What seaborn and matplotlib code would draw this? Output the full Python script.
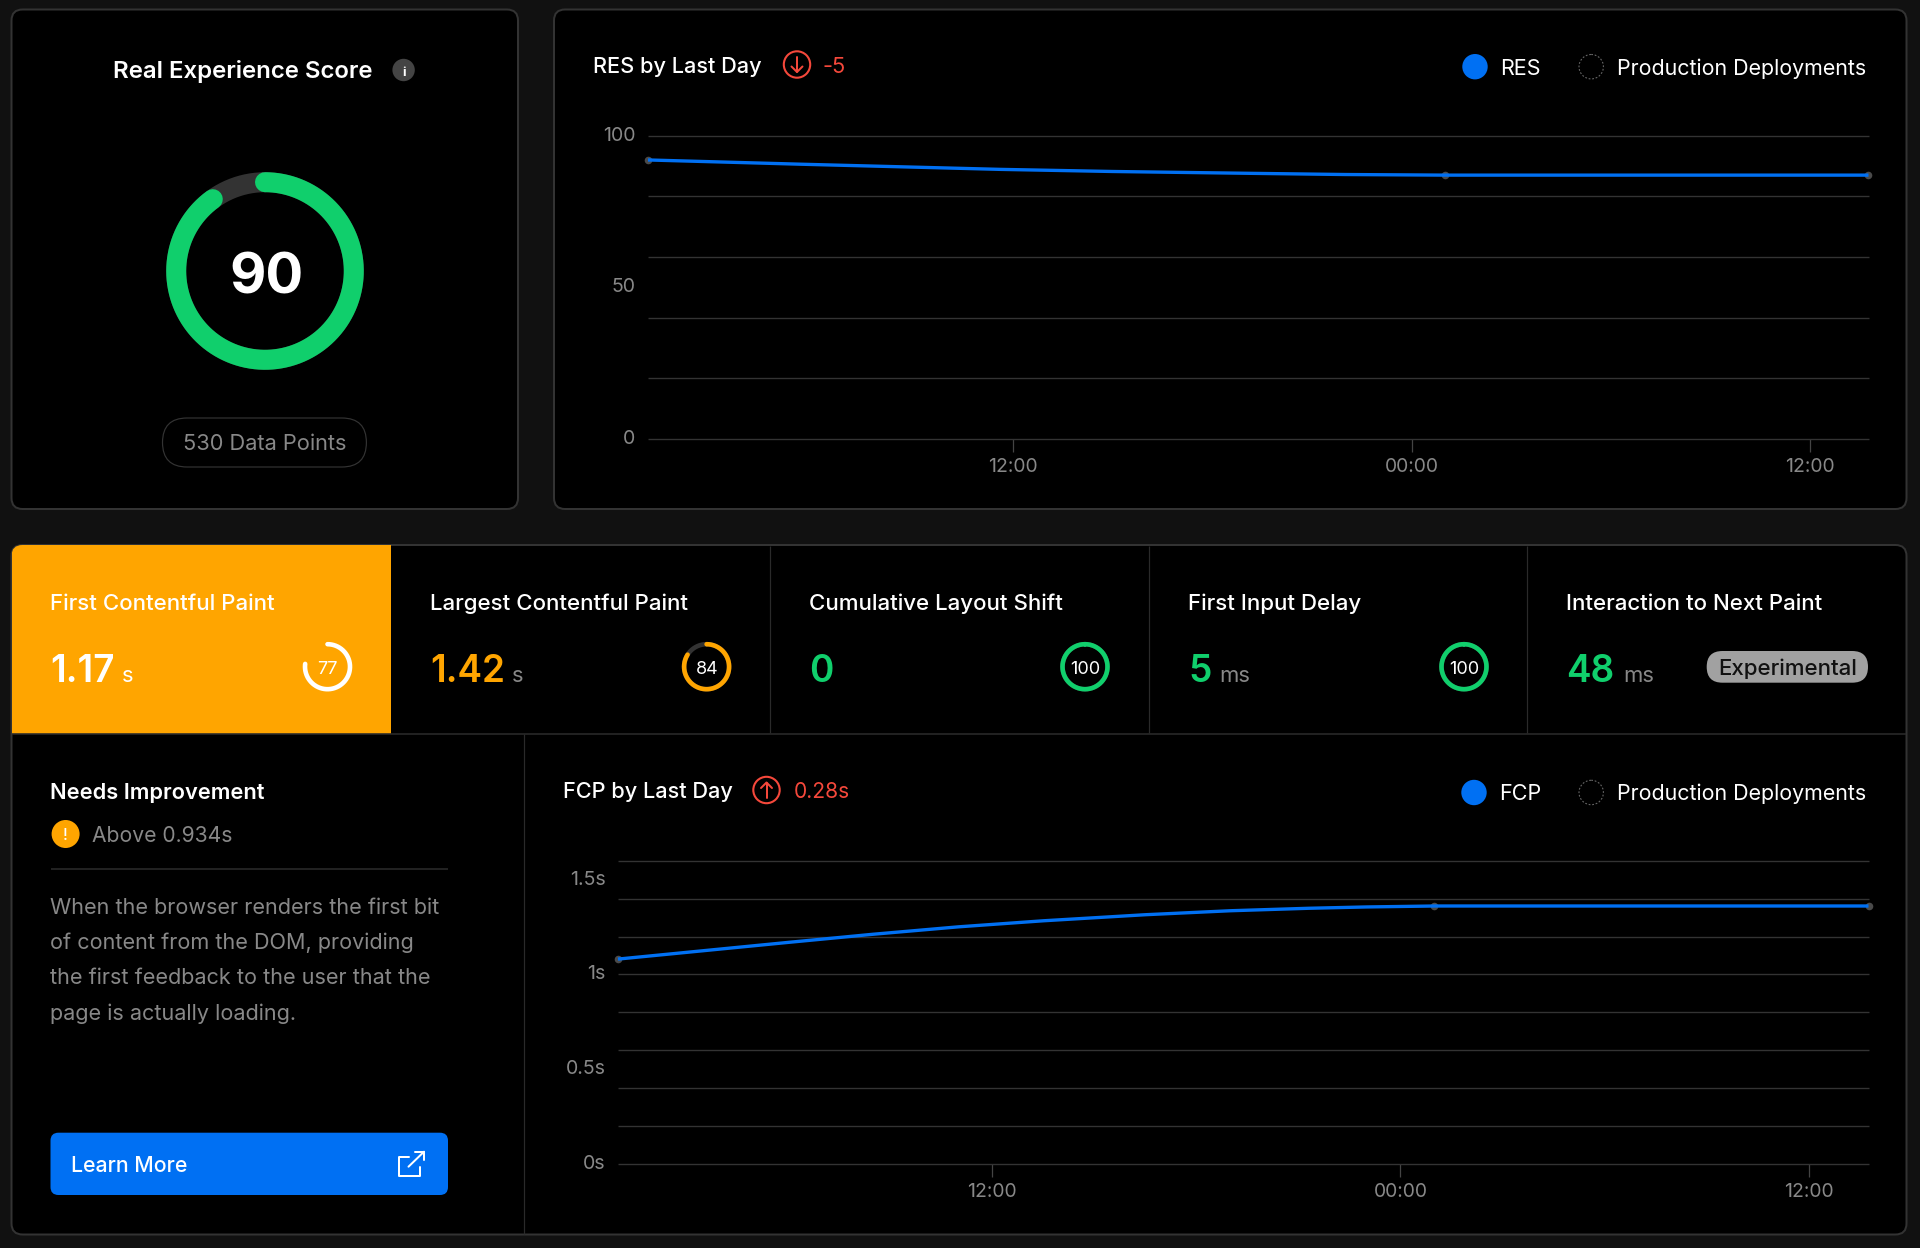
import numpy as np
import matplotlib
matplotlib.use("Agg")
import matplotlib.pyplot as plt
from matplotlib.patches import FancyBboxPatch, Circle, Rectangle
from matplotlib.transforms import ScaledTranslation
import seaborn as sns

# ---------- data ----------
RES_HOURS = [1, 5.6, 11.6, 15, 19.1, 22, 25, 37.76]
RES_VALUES = [92, 90.6, 88.9, 88.2, 87.6, 87.2, 87, 87]
RES_POINT_HOURS = [1, 25, 37.76]
RES_POINT_VALUES = [92, 87, 87]
RES_GRID = [0, 20, 40, 60, 80, 100]
RES_LABELS = [0, 50, 100]

FCP_HOURS = [1, 3.5, 6, 8.5, 11, 13.5, 16.5, 19, 21.3, 23, 25, 37.76]
FCP_VALUES = [1.081, 1.125, 1.169, 1.212, 1.251, 1.283, 1.315, 1.336, 1.349, 1.356, 1.361, 1.361]
FCP_POINT_HOURS = [1, 25, 37.76]
FCP_POINT_VALUES = [1.081, 1.361, 1.361]
FCP_GRID = [0, 0.2, 0.4, 0.6, 0.8, 1.0, 1.2, 1.4, 1.6]
FCP_LABELS = [0, 0.5, 1, 1.5]
FCP_LABEL_TEXT = ["0s", "0.5s", "1s", "1.5s"]

TIME_TICKS = [12, 24, 36]
TIME_LABELS = ["12:00", "00:00", "12:00"]

OVERALL_SCORE = 90
METRIC_NAMES = ["First Contentful Paint", "Largest Contentful Paint",
                "Cumulative Layout Shift", "First Input Delay",
                "Interaction to Next Paint"]
METRIC_VALUES = ["1.17", "1.42", "0", "5", "48"]
METRIC_UNITS = ["s", "s", "", "ms", "ms"]
METRIC_SCORES = [77, 84, 100, 100]
PARAGRAPH = ["When the browser renders the first bit",
             "of content from the DOM, providing",
             "the first feedback to the user that the",
             "page is actually loading."]

# ---------- style ----------
BG, PANEL, BORDER = "#111111", "#000000", "#333333"
GRID, GRAY = "#333333", "#888888"
BLUE, GREEN, ORANGE, RED = "#0070f3", "#10cf6c", "#ffa500", "#f5483b"
TRACK = "#333333"

sns.set_theme(style="dark")
plt.rcParams["font.family"] = ["Inter", "DejaVu Sans"]
plt.rcParams["axes.unicode_minus"] = False

W, H = 1920, 1248
fig = plt.figure(figsize=(W / 100, H / 100), dpi=100, facecolor=BG)
ui = fig.add_axes([0, 0, 1, 1])
ui.set_xlim(0, W)
ui.set_ylim(H, 0)
ui.axis("off")


def T(x, y, s, px=22, color="white", weight="normal", ha="left"):
    return ui.text(x, y, s, fontsize=px * 0.72, color=color, weight=weight,
                   ha=ha, va="baseline", zorder=6)


def box(x0, y0, x1, y1, radius, face, edge="none", lw=1.5, z=1):
    p = FancyBboxPatch((x0, y0), x1 - x0, y1 - y0,
                       boxstyle=f"round,pad=0,rounding_size={radius}",
                       fc=face, ec=edge, lw=lw * 0.72, zorder=z)
    ui.add_patch(p)
    return p


def path(xs, ys, color, lw, z=5, cap="round"):
    ui.plot(xs, ys, color=color, lw=lw * 0.72, zorder=z,
            solid_capstyle=cap, solid_joinstyle="round")


def gauge(cx, cy, r, width, score, color, track=TRACK):
    t = np.linspace(0, 2 * np.pi, 361)
    path(cx + r * np.sin(t), cy - r * np.cos(t), track, width, z=4)
    t = np.linspace(0, 2 * np.pi * score / 100, 361)
    path(cx + r * np.sin(t), cy - r * np.cos(t), color, width, z=5)


def legend(dot_x, name_x, y, base, name):
    ui.add_patch(Circle((dot_x, y), 12.7, fc=BLUE, ec="none", zorder=5))
    T(name_x, base, name, 21.6)
    ui.add_patch(Circle((1591.2, y), 12.2, fc="none", ec="#666666", lw=0.8,
                        ls=(0, (1.6, 1.6)), zorder=5))
    T(1616.7, base, "Production Deployments", 21.4)


def chart(x0, x1, ytop, ybot, hours, values, p_h, p_v, grid, labels, text):
    ax = fig.add_axes([x0 / W, 1 - ybot / H, (x1 - x0) / W, (ybot - ytop) / H])
    ax.patch.set_alpha(0)
    sns.scatterplot(x=p_h, y=p_v, ax=ax, color="#4a4a4a", s=30, linewidth=0,
                    legend=False, clip_on=False, zorder=3)
    sns.lineplot(x=hours, y=values, ax=ax, color=BLUE, lw=2.4, legend=False,
                 errorbar=None, estimator=None, sort=False, zorder=4,
                 solid_capstyle="butt", clip_on=False)
    ax.set_xlim(hours[0], hours[-1])
    ax.set_ylim(grid[0], grid[-1])
    ax.set_xticks(TIME_TICKS, TIME_LABELS)
    ax.set_yticks(labels, text)
    ax.set_yticks(grid, minor=True)
    ax.yaxis.remove_overlapping_locs = False
    ax.grid(False)
    ax.grid(True, axis="y", which="minor", color=GRID, lw=1.0, solid_capstyle="butt")
    for t in ax.yaxis.get_minor_ticks():
        t.gridline.set_clip_on(False)
        t.gridline.set_zorder(1)
    ax.set_axisbelow(True)
    ax.tick_params(axis="y", which="both", length=0)
    ax.tick_params(axis="y", which="major", labelsize=19.6 * 0.72,
                   labelcolor=GRAY, pad=9)
    ax.tick_params(axis="x", length=9, width=0.9, color="#444444",
                   labelsize=19.4 * 0.72, labelcolor=GRAY, pad=4.5, bottom=True)
    shift = ScaledTranslation(0, 2 / 100, fig.dpi_scale_trans)
    for lab in ax.get_yticklabels():
        lab.set_transform(lab.get_transform() + shift)
    for side, sp in ax.spines.items():
        sp.set_visible(False)
    return ax


# ---------- panels ----------
box(11.5, 9.5, 518, 509, 11, PANEL, BORDER, 2)
box(554, 9.5, 1906.5, 509, 11, PANEL, BORDER, 2)
main = box(11.5, 545, 1906.5, 1234.5, 11, PANEL, BORDER, 2)

# ---------- score card ----------
T(113, 78.4, "Real Experience Score", 24, weight="semibold")
ui.add_patch(Circle((403.6, 70), 11.2, fc="#444444", ec="none", zorder=5))
T(403.6, 76, "i", 13, weight="bold", ha="center")
gauge(265, 271, 88.8, 20, OVERALL_SCORE, GREEN)
T(266, 293, str(OVERALL_SCORE), 56, weight="bold", ha="center")
box(162.5, 418, 366.4, 467, 24.5, "none", "#333333", 1.2)
T(264.5, 450.5, "530 Data Points", 21.8, GRAY, ha="center")

# ---------- RES chart ----------
T(593, 72.7, "RES by Last Day", 21.7, weight="medium")
ui.add_patch(Circle((797, 64.5), 13.2, fc="none", ec=RED, lw=1.5, zorder=5))
path([797, 797], [57, 71.5], RED, 2)
path([791.5, 797, 802.5], [66.5, 72, 66.5], RED, 2)
T(823, 72.7, "-5", 22, RED)
legend(1475, 1500, 66.7, 74.7, "RES")
chart(648, 1868.5, 135.7, 439, RES_HOURS, RES_VALUES, RES_POINT_HOURS,
      RES_POINT_VALUES, RES_GRID, RES_LABELS, [str(v) for v in RES_LABELS])

# ---------- metric row ----------
orange = Rectangle((11.5, 545), 379.5, 188.5, fc=ORANGE, ec="none", zorder=2)
ui.add_patch(orange)
orange.set_clip_path(main)
for x in (770, 1148.6, 1527):
    path([x, x], [546, 733], "#2a2a2a", 1.2, z=3, cap="butt")
path([12, 1906], [733.7, 733.7], "#2a2a2a", 1.6, z=3, cap="butt")
path([523.5, 523.5], [734, 1234], "#2a2a2a", 1.2, z=3, cap="butt")

METRIC_X = [50, 430, 809, 1188, 1566.5]
UNIT_X = [122, 512, None, 1219, 1623]
VALUE_COLORS = ["white", ORANGE, GREEN, GREEN, GREEN]
UNIT_COLORS = ["white", GRAY, GRAY, GRAY, GRAY]
for i, name in enumerate(METRIC_NAMES):
    T(METRIC_X[i], 610, name, 22.3, weight="medium")
    T(METRIC_X[i], 681.7, METRIC_VALUES[i], 37, VALUE_COLORS[i], weight="semibold")
    if METRIC_UNITS[i]:
        T(UNIT_X[i], 681.7, METRIC_UNITS[i], 22, UNIT_COLORS[i])

GAUGE_X = [327.5, 706.6, 1085, 1464]
LABEL_X = [327.5, 707.6, 1085, 1464]
GAUGE_COLORS = ["white", ORANGE, GREEN, GREEN]
GAUGE_TRACKS = [ORANGE, TRACK, TRACK, TRACK]
for i, score in enumerate(METRIC_SCORES):
    gauge(GAUGE_X[i], 666.7, 22.5, 4.6, score, GAUGE_COLORS[i], GAUGE_TRACKS[i])
    T(LABEL_X[i], 674, str(score), 18, "white", ha="center")

box(1706.7, 651, 1868, 682.7, 15.8, "#a1a1a1", z=5)
T(1787.3, 675, "Experimental", 22.3, "#111111", weight="medium", ha="center")

# ---------- description ----------
T(50.5, 799, "Needs Improvement", 21.8, weight="semibold")
ui.add_patch(Circle((65.6, 834), 14, fc=ORANGE, ec="none", zorder=5))
T(65.6, 840.5, "!", 16, "white", weight="medium", ha="center")
T(91.5, 842.3, "Above 0.934s", 21.1, GRAY)
path([50.5, 448], [868.7, 868.7], "#2a2a2a", 1.6, cap="butt")
for yy, line in zip([914.3, 949.3, 984.3, 1020], PARAGRAPH):
    T(50.5, yy, line, 21.6, GRAY)
box(50.5, 1132.7, 448, 1195, 8, BLUE, z=4)
T(71.4, 1172.3, "Learn More", 21.3, weight="medium")
path([408.5, 398.7, 398.7, 419.6, 419.6], [1156.7, 1156.7, 1176, 1176, 1166.7], "white", 2)
path([408.5, 424], [1166.7, 1151.7], "white", 2)
path([415, 424, 424], [1151.7, 1151.7, 1160], "white", 2)

# ---------- FCP chart ----------
T(563, 797.7, "FCP by Last Day", 21.7, weight="medium")
ui.add_patch(Circle((766.5, 790), 13.2, fc="none", ec=RED, lw=1.5, zorder=5))
path([766.5, 766.5], [783, 797.5], RED, 2)
path([761, 766.5, 772], [788, 782.5, 788], RED, 2)
T(793.5, 797.7, "0.28s", 21, RED)
legend(1474, 1499, 792.5, 800.3, "FCP")
chart(618, 1868.5, 860.7, 1164, FCP_HOURS, FCP_VALUES, FCP_POINT_HOURS,
      FCP_POINT_VALUES, FCP_GRID, FCP_LABELS, FCP_LABEL_TEXT)

fig.savefig("out.png", dpi=100, facecolor=BG)
